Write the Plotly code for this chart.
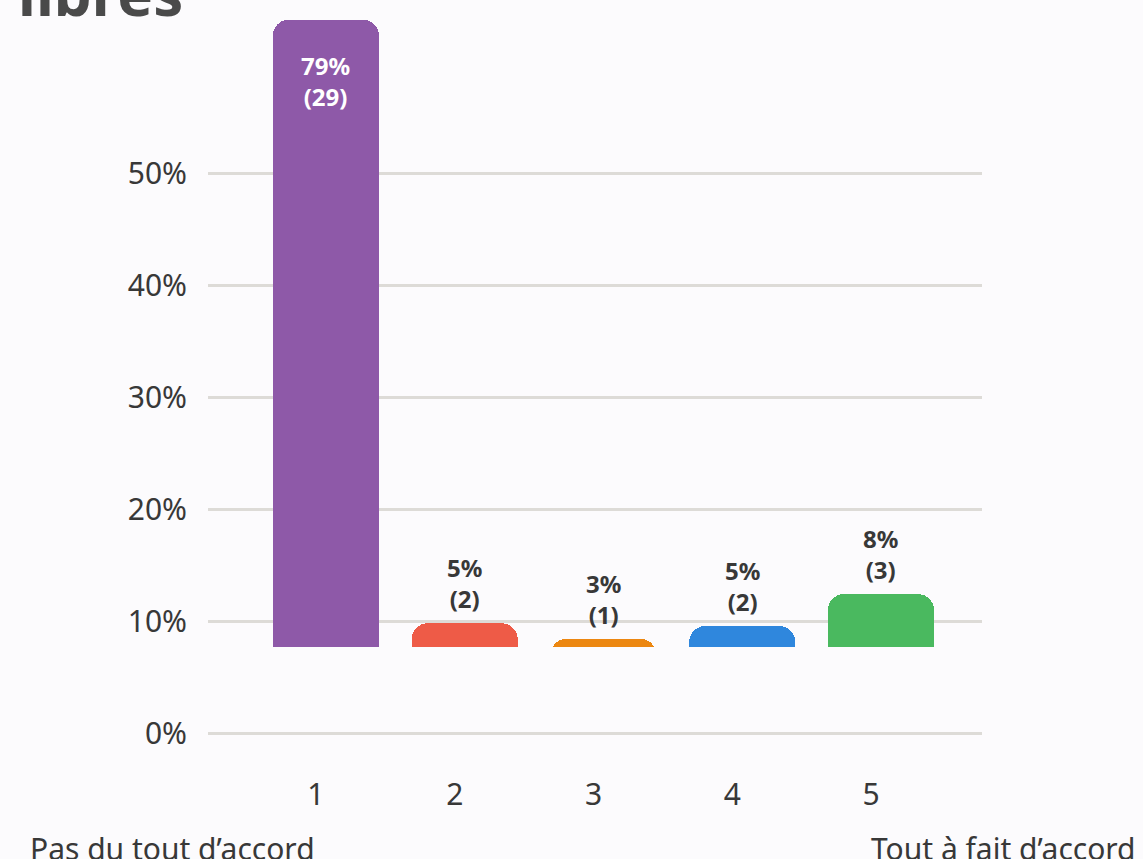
import plotly.graph_objects as go

# ---- data ----
categories = [1, 2, 3, 4, 5]
pct_labels = ["79%", "5%", "3%", "5%", "8%"]
counts = [29, 2, 1, 2, 3]
bar_top = [63.7, 9.8, 8.4, 9.55, 12.4]     # top of each bar on the % axis (as drawn)
bar_base = 7.7                               # common bar baseline (as drawn)
colors = ["#8e59a8", "#ee5b47", "#ec8711", "#2f87dd", "#4ab95f"]
ytick_vals = [0, 10, 20, 30, 40, 50]
ytick_text = ["0%", "10%", "20%", "30%", "40%", "50%"]
left_label = "Pas du tout d\u2019accord"
right_label = "Tout \u00e0 fait d\u2019accord"
title_text = "libres"

BG = "#fcfbfd"
TXT = "#383838"
FONT = "Noto Sans"

heights = [t - bar_base for t in bar_top]

fig = go.Figure()
# invisible spacer up to the drawn baseline
fig.add_trace(go.Bar(
    x=categories, y=[bar_base] * len(categories),
    marker=dict(color="rgba(0,0,0,0)", line=dict(width=0)),
    width=0.764, offset=-0.31, hoverinfo="skip",
))
fig.add_trace(go.Bar(
    x=categories, y=heights,
    marker=dict(color=colors, line=dict(width=0)),
    width=0.764, offset=-0.31, hoverinfo="skip",
))

# value labels
for i, (c, p, n, t) in enumerate(zip(categories, pct_labels, counts, bar_top)):
    cx = c - 0.31 + 0.764 / 2
    if i == 0:
        fig.add_annotation(x=cx, y=t, text=f"{p}<br>({n})", showarrow=False,
                           yanchor="top", yshift=-27,
                           font=dict(family=FONT, size=24, color="#ffffff", weight=700))
    else:
        fig.add_annotation(x=cx, y=t, text=f"{p}<br>({n})", showarrow=False,
                           yanchor="bottom", yshift=6,
                           font=dict(family=FONT, size=24, color=TXT, weight=700))

# bottom end labels
fig.add_annotation(xref="paper", yref="paper", x=-0.233, y=0, xanchor="left", yanchor="top",
                   yshift=-81, text=left_label, showarrow=False,
                   font=dict(family=FONT, size=30, color=TXT))
fig.add_annotation(xref="paper", yref="paper", x=1.201, y=0, xanchor="right", yanchor="top",
                   yshift=-81, text=right_label, showarrow=False,
                   font=dict(family=FONT, size=30, color=TXT))

# cropped title
fig.add_annotation(xref="paper", yref="paper", x=-0.248, y=1, xanchor="left", yanchor="bottom",
                   yshift=-36, text=f"<b>{title_text}</b>", showarrow=False,
                   font=dict(family=FONT, size=60, color="#4a4a4a"))

fig.update_layout(
    width=1143, height=859,
    margin=dict(l=208, r=161, t=0, b=114),
    paper_bgcolor=BG, plot_bgcolor=BG,
    showlegend=False,
    barmode="stack",
    barcornerradius=16,
    xaxis=dict(range=[0.222, 5.80], tickmode="array", tickvals=categories,
               ticktext=[str(c) for c in categories], showgrid=False, zeroline=False,
               showline=False, ticks="", ticklabelstandoff=29,
               tickfont=dict(family=FONT, size=30, color=TXT)),
    yaxis=dict(range=[-1.07, 65.45], tickmode="array", tickvals=ytick_vals,
               ticktext=ytick_text, showgrid=True, gridcolor="#dddbd7", gridwidth=3,
               zeroline=False, showline=False, ticks="", ticklabelstandoff=20,
               tickfont=dict(family=FONT, size=30, color=TXT)),
)

fig.write_html("out.html", config={"displayModeBar": False},
               post_script="document.body.style.margin='0';document.body.style.overflow='hidden';")
